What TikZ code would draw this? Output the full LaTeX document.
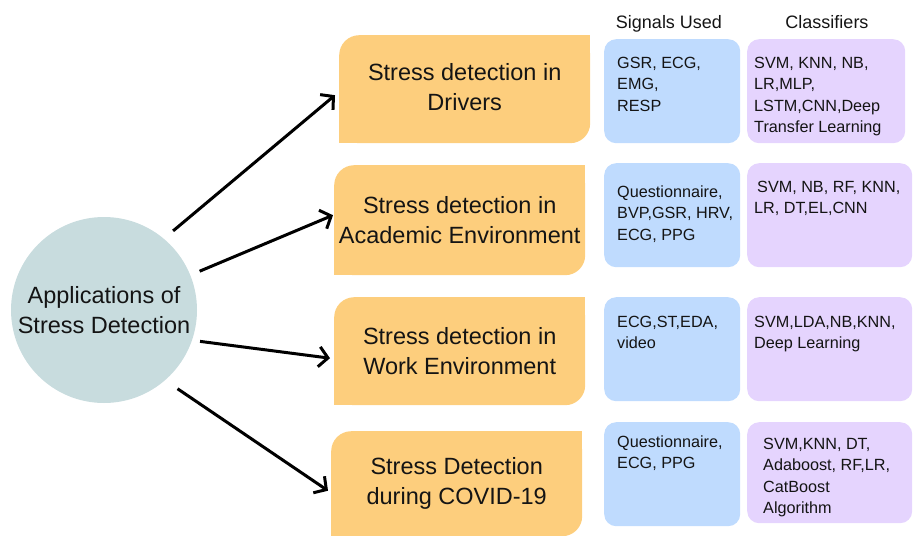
\documentclass[tikz,border=0pt]{standalone}
\usepackage{fontspec}
\setmainfont{Liberation Sans}
\usetikzlibrary{arrows.meta,calc,backgrounds}

\definecolor{ink}{HTML}{141414}
\definecolor{hubfill}{HTML}{C8DCDE}
\definecolor{appfill}{HTML}{FDCE7D}
\definecolor{sigfill}{HTML}{BFDBFE}
\definecolor{clsfill}{HTML}{E5D4FE}

% stacked lines whose baseline is the first line
\newcommand{\cellstack}[1]{\begin{tabular}[t]{@{}l@{}}#1\end{tabular}}

\begin{document}
\begin{tikzpicture}[x=1pt,y=-1pt,
  every node/.style={text=ink},
  bigfont/.style={font=\fontsize{23.5}{30}\selectfont},
  smallfont/.style={font=\fontsize{16.2}{21.5}\selectfont},
  hub/.style={circle, fill=hubfill, minimum size=186pt, inner sep=0pt,
    align=center, bigfont},
  appbox/.style={fill=appfill, rounded corners=20pt, anchor=north west,
    minimum width=251pt, inner sep=0pt, align=center, bigfont},
  sigbox/.style={fill=sigfill, rounded corners=12pt, anchor=north west,
    minimum width=136pt, minimum height=104pt, inner sep=0pt},
  clsbox/.style={fill=clsfill, rounded corners=12pt, anchor=north west,
    minimum height=104pt, inner sep=0pt},
  cell/.style={anchor=base west, inner sep=0pt, smallfont},
  head/.style={anchor=base, inner sep=0pt, font=\fontsize{18}{22}\selectfont},
  conn/.style={line width=3pt, draw=black,
    -{Straight Barb[length=9pt,width=20pt]}}
]
\useasboundingbox (0,0) rectangle (914,536);

% central topic
\node[hub] (hub) at (104,310) {Applications of\\Stress Detection};

% application areas
\node[appbox, minimum height=108pt] (app1) at (339,35)
  {\raisebox{5pt}{\begin{tabular}{@{}c@{}}Stress detection in\\Drivers\end{tabular}}};
\node[appbox, minimum height=110pt] (app2) at (334,165)
  {Stress detection in\\Academic Environment};
\node[appbox, minimum height=108pt] (app3) at (334,297)
  {Stress detection in\\Work Environment};
\node[appbox, minimum height=105pt] (app4) at (331,431)
  {Stress Detection\\during COVID-19};

% square off the top-right and bottom-left corners
\begin{scope}[on background layer]
  \foreach \b in {app1,app2,app3,app4} {
    \fill[appfill] (\b.north east) rectangle ++(-22,22);
    \fill[appfill] (\b.south west) rectangle ++(22,-22);
  }
\end{scope}

% column headings
\node[head] (hsig) at (669,28) {Signals Used};
\node[head] (hcls) at (827,28) {Classifiers};

% signals and classifiers per application
\node[sigbox] (sig1) at (604,39) {};
\node[clsbox, minimum width=158pt] (cls1) at (747,39) {};
\node[cell] (sig1t) at (617,68) {\cellstack{GSR, ECG,\\EMG,\\RESP}};
\node[cell] (cls1t) at (754,68) {\cellstack{SVM, KNN, NB,\\LR,MLP,\\LSTM,CNN,Deep\\Transfer Learning}};

\node[sigbox] (sig2) at (604,163) {};
\node[clsbox, minimum width=165pt] (cls2) at (747,163) {};
\node[cell] (sig2t) at (617,197) {\cellstack{Questionnaire,\\BVP,GSR, HRV,\\ECG, PPG}};
\node[cell] (cls2t) at (754,192) {\cellstack{\hspace{3pt}SVM, NB, RF, KNN,\\LR, DT,EL,CNN}};

\node[sigbox] (sig3) at (604,297) {};
\node[clsbox, minimum width=165pt] (cls3) at (747,297) {};
\node[cell] (sig3t) at (617,327) {\cellstack{ECG,ST,EDA,\\video}};
\node[cell] (cls3t) at (754,327) {\cellstack{SVM,LDA,NB,KNN,\\Deep Learning}};

\node[sigbox] (sig4) at (604,422) {};
\node[clsbox, minimum width=165pt, minimum height=101pt] (cls4) at (747,422) {};
\node[cell] (sig4t) at (617,447) {\cellstack{Questionnaire,\\ECG, PPG}};
\node[cell] (cls4t) at (763,449) {\cellstack{SVM,KNN, DT,\\Adaboost, RF,LR,\\CatBoost\\Algorithm}};

% connectors from the central topic
\draw[conn, shorten <=12pt] (hub.50)  -- ($(app1.west)+(-4,6)$);
\draw[conn, shorten <=10pt] (hub.22)  -- ($(app2.west)+(-1,-5)$);
\draw[conn, shorten <=8pt]  (hub.-19) -- ($(app3.west)+(-4,7)$);
\draw[conn, shorten <=15pt] (hub.-49) -- ($(app4.west)+(-3,7)$);
\end{tikzpicture}
\end{document}
